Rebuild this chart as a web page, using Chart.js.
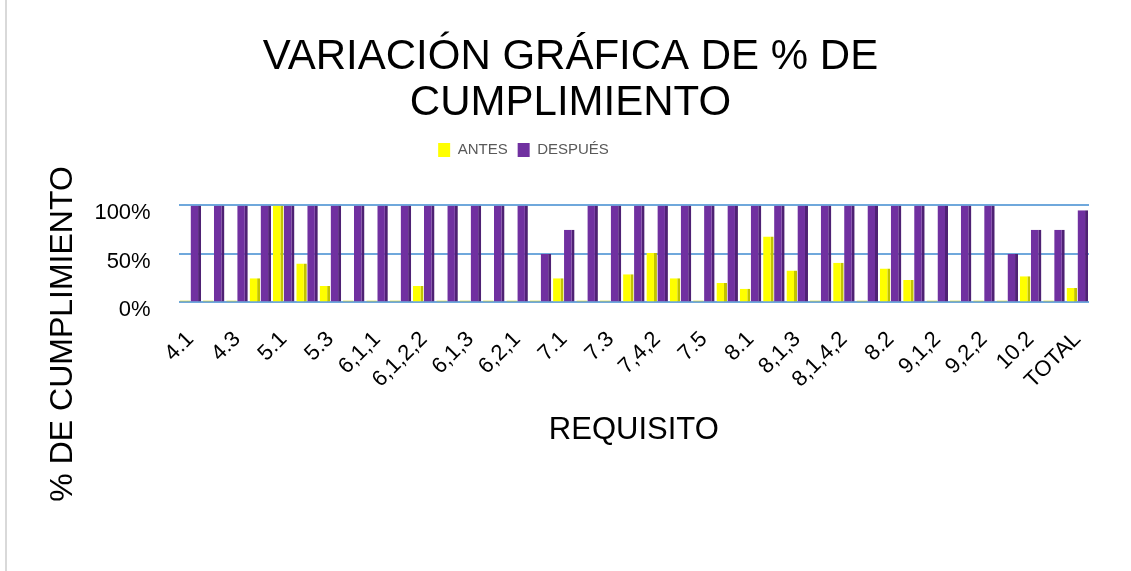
<!DOCTYPE html>
<html>
<head>
<meta charset="utf-8">
<script src="https://cdn.jsdelivr.net/npm/chart.js@4"></script>
<style>
  body { margin: 0; background: #fff; }
  #wrap { position: relative; width: 1131px; height: 571px; }
  #edge { position: absolute; left: 5px; top: 0; width: 2px; height: 571px; background: #d9d9d9; }
</style>
</head>
<body>
<div id="wrap">
  <div id="edge"></div>
  <canvas id="chart"></canvas>
</div>
<script>
const requisitos = ['4.1', '4.2', '4.3', '4.4', '5.1', '5.2', '5.3', '5.4',
  '6,1,1', '6,1,2,1', '6,1,2,2', '6,1,2,3', '6,1,3', '6,1,4', '6,2,1', '6,2,2',
  '7.1', '7.2', '7.3', '7,4,1', '7,4,2', '7,4,3', '7.5', '7,5,3',
  '8.1', '8,1,2', '8,1,3', '8,1,4,1', '8,1,4,2', '8,1,4,3', '8.2',
  '9,1,1', '9,1,2', '9,2,1', '9,2,2', '9.3', '10.2', '10.3', 'TOTAL'];

const antes = [0, 0, 0, 25, 100, 40, 17, 0,
  0, 0, 17, 0, 0, 0, 0, 0,
  25, 0, 0, 29, 51, 25, 0, 20,
  14, 68, 33, 0, 41, 0, 35,
  23, 0, 0, 0, 0, 27, 0, 15];

const despues = [100, 100, 100, 100, 100, 100, 100, 100,
  100, 100, 100, 100, 100, 100, 100, 50,
  75, 100, 100, 100, 100, 100, 100, 100,
  100, 100, 100, 100, 100, 100, 100,
  100, 100, 100, 100, 50, 75, 75, 95];

const yTicks = [0, 50, 100];
const seriesColors = ['#ffff00', '#7030a0'];

// extra space under the legend
const legendGap = {
  id: 'legendGap',
  beforeInit(chart) {
    const fit = chart.legend.fit;
    chart.legend.fit = function () {
      fit.bind(chart.legend)();
      this.height += 38;
    };
  }
};

// nudge title, legend and y title to where the original has them
const nudge = {
  id: 'nudge',
  afterLayout(chart) {
    const t = chart.titleBlock;
    t.left += 18; t.right += 18;
    chart.legend.left -= 29; chart.legend.right -= 29;
    const ys = chart.scales.y;
    if (!ys._nudged) {
      const draw = ys.drawTitle;
      ys.drawTitle = function (a) {
        this.ctx.save();
        this.ctx.translate(24, 80);
        draw.call(this, a);
        this.ctx.restore();
      };
      ys._nudged = true;
    }
  }
};

const ctx = document.getElementById('chart').getContext('2d');
new Chart(ctx, {
  type: 'bar',
  data: {
    labels: requisitos,
    datasets: [{
      label: 'ANTES',
      data: antes,
      backgroundColor: c => c.raw === 0 ? '#cfc700' : seriesColors[0],
      borderColor: '#c2c200',
      borderWidth: { top: 0, right: 3, bottom: 0, left: 0 },
      borderSkipped: false,
      minBarLength: 2,
      categoryPercentage: 0.94,
      barPercentage: 0.96
    }, {
      label: 'DESPUÉS',
      data: despues,
      backgroundColor: seriesColors[1],
      borderColor: '#4f2174',
      borderWidth: { top: 0, right: 3, bottom: 0, left: 0 },
      borderSkipped: false,
      categoryPercentage: 0.94,
      barPercentage: 0.96
    }]
  },
  options: {
    responsive: true,
    maintainAspectRatio: false,
    animation: false,
    layout: { padding: { top: 24, left: 16, right: 42, bottom: 118 } },
    plugins: {
      title: {
        display: true,
        text: ['VARIACIÓN GRÁFICA DE % DE', 'CUMPLIMIENTO'],
        color: '#000',
        font: { family: 'Liberation Sans', size: 42, weight: 'normal', lineHeight: 1.1 },
        padding: { top: 10, bottom: 6 }
      },
      legend: {
        position: 'top',
        labels: {
          color: '#595959',
          font: { family: 'Liberation Sans', size: 15 },
          boxWidth: 12,
          boxHeight: 14,
          padding: 10,
          generateLabels: chart => Chart.defaults.plugins.legend.labels.generateLabels(chart)
            .map((item, i) => Object.assign(item, {
              fillStyle: seriesColors[i], strokeStyle: seriesColors[i], lineWidth: 0
            }))
        }
      },
      tooltip: { enabled: false }
    },
    scales: {
      x: {
        grid: { display: false },
        border: { display: false },
        title: {
          display: true,
          text: 'REQUISITO',
          color: '#000',
          font: { family: 'Liberation Sans', size: 31 },
          padding: { top: 2 }
        },
        ticks: {
          autoSkip: false,
          minRotation: 45,
          maxRotation: 45,
          padding: 16,
          color: '#000',
          font: { family: 'Liberation Sans', size: 22 },
          callback: function (v, i) {
            return i % 2 === 0 ? this.getLabelForValue(v) : '';
          }
        }
      },
      y: {
        min: 0,
        max: 100,
        afterBuildTicks: axis => { axis.ticks = yTicks.map(v => ({ value: v })); },
        grid: { color: '#6fa8dc', lineWidth: 2, drawTicks: false },
        border: { display: false },
        title: {
          display: true,
          text: '% DE CUMPLIMIENTO',
          color: '#000',
          font: { family: 'Liberation Sans', size: 32 },
          padding: { bottom: 8 }
        },
        ticks: {
          padding: 28,
          labelOffset: 8,
          color: '#000',
          font: { family: 'Liberation Sans', size: 22 },
          callback: v => v + '%'
        }
      }
    }
  },
  plugins: [legendGap, nudge]
});
</script>
</body>
</html>
